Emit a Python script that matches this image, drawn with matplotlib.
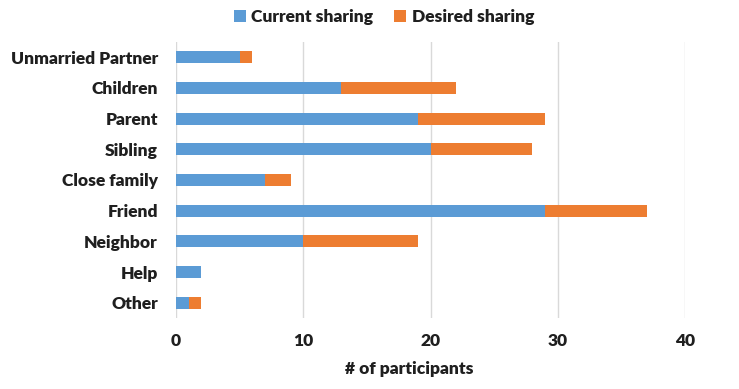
import matplotlib.pyplot as plt
import numpy as np

plt.rcParams['font.family'] = ['Lato', 'DejaVu Sans']

# data
categories = ['Unmarried Partner', 'Children', 'Parent', 'Sibling', 'Close family',
              'Friend', 'Neighbor', 'Help', 'Other']
current = [5, 13, 19, 20, 7, 29, 10, 2, 1]
desired = [1, 9, 10, 8, 2, 8, 9, 0, 1]
xticks = [0, 10, 20, 30, 40]

blue = '#5B9BD5'
orange = '#ED7D31'
text_col = '#1f1f1f'
fs = 12.5

fig = plt.figure(figsize=(7.39, 3.89), dpi=100)
ax = fig.add_axes([176 / 739, 1 - 318 / 389, (685 - 176) / 739, (318 - 42) / 389])

y = np.arange(len(categories))
ax.barh(y, current, height=0.4, color=blue, label='Current sharing')
ax.barh(y, desired, left=current, height=0.4, color=orange, label='Desired sharing')

ax.set_xlim(0, 40)
ax.set_ylim(len(categories) - 0.5, -0.5)
ax.set_yticks(y)
ax.set_yticklabels(categories, fontsize=fs, fontweight='heavy', color=text_col)
ax.set_xticks(xticks)
ax.set_xticklabels([str(t) for t in xticks], fontsize=fs, fontweight='heavy', color=text_col)
ax.tick_params(axis='both', length=0)
ax.tick_params(axis='y', pad=13)
ax.tick_params(axis='x', pad=11)

ax.grid(axis='x', color='#d9d9d9', linewidth=1)
ax.set_axisbelow(True)
for s in ax.spines.values():
    s.set_visible(False)

ax.set_xlabel('# of participants', fontsize=fs, fontweight='heavy', color=text_col)
ax.xaxis.set_label_coords((409 - 176) / (685 - 176), -(361 - 318) / (318 - 42))

fig.legend(loc='center', bbox_to_anchor=(384 / 739, 1 - 17 / 389), ncol=2, frameon=False,
           prop={'size': fs, 'weight': 'heavy'}, handlelength=0.7, handleheight=0.7,
           handletextpad=0.3, columnspacing=1.2, labelcolor=text_col)

fig.savefig('out.png', dpi=100)
